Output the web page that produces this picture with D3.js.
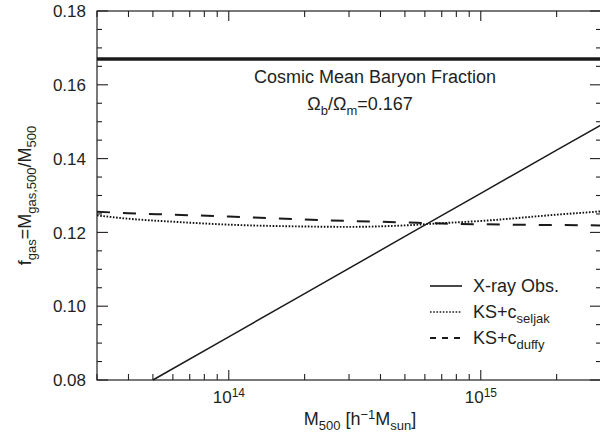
<!DOCTYPE html>
<html>
<head>
<meta charset="utf-8">
<script src="https://cdn.jsdelivr.net/npm/d3@7"></script>
<style>
  body { margin: 0; background: #fff; }
  text { font-family: "Liberation Sans", Arial, Helvetica, sans-serif; fill: #231f20; }
</style>
</head>
<body>
<div id="chart"></div>
<script>
// data
let baryonFraction = 0.167;

let massXray = [5e13, 1e14, 2e14, 5e14, 1e15, 2e15, 3e15];
let fXray = [0.0800, 0.0917, 0.1034, 0.1189, 0.1306, 0.1423, 0.1491];

let massModel = [3e13, 4e13, 6e13, 1e14, 2e14, 3e14, 5e14, 7e14, 1e15, 2e15, 3e15];
let fSeljak = [0.1246, 0.1237, 0.1229, 0.1221, 0.1216, 0.1215, 0.1219, 0.1225, 0.1231, 0.1248, 0.1257];
let fDuffy = [0.1256, 0.1252, 0.1248, 0.1243, 0.1235, 0.1231, 0.1227, 0.1224, 0.1222, 0.1220, 0.1219];

let yTicks = [0.08, 0.10, 0.12, 0.14, 0.16, 0.18];
let xMajor = [1e14, 1e15];
let xExp = [14, 15];

let svgWidth = 600;
let svgHeight = 436;
let margin = { top: 11, right: -1, bottom: 56, left: 97 };
let width = svgWidth - margin.left - margin.right;
let height = svgHeight - margin.top - margin.bottom;

let svg = d3.select("#chart")
  .append("svg")
  .attr("width", svgWidth)
  .attr("height", svgHeight)
  .append("g")
  .attr("transform", "translate(" + margin.left + "," + margin.top + ")");

let x = d3.scaleLog().domain([3e13, 3e15]).range([0, width]);
let y = d3.scaleLinear().domain([0.08, 0.18]).range([height, 0]);

// minor ticks
let xMinor = [];
[1e13, 1e14, 1e15].forEach(function(d) {
  for (let k = 1; k < 10; k++) {
    let v = d * k;
    if (v >= 3e13 && v <= 3e15 && xMajor.indexOf(v) < 0) xMinor.push(v);
  }
});
let yMinor = d3.range(0.08, 0.1801, 0.005).filter(function(v) {
  return Math.abs(Math.round(v * 50) - v * 50) > 1e-6;
});

let axisColor = "#231f20";
let ticks = svg.append("g").attr("stroke", axisColor).attr("stroke-width", 1.1);

function hTick(v, len) {
  ticks.append("line").attr("x1", 0).attr("x2", len).attr("y1", y(v)).attr("y2", y(v));
  ticks.append("line").attr("x1", width).attr("x2", width - len).attr("y1", y(v)).attr("y2", y(v));
}
function vTick(v, len) {
  ticks.append("line").attr("x1", x(v)).attr("x2", x(v)).attr("y1", height).attr("y2", height - len);
  ticks.append("line").attr("x1", x(v)).attr("x2", x(v)).attr("y1", 0).attr("y2", len);
}
yTicks.forEach(function(v) { hTick(v, 11); });
yMinor.forEach(function(v) { hTick(v, 5); });
xMajor.forEach(function(v) { vTick(v, 10); });
xMinor.forEach(function(v) { vTick(v, 6); });

// frame
svg.append("rect")
  .attr("width", width).attr("height", height)
  .attr("fill", "none").attr("stroke", axisColor).attr("stroke-width", 1.2);

// y tick labels
svg.append("g").selectAll("text")
  .data(yTicks)
  .enter().append("text")
  .attr("x", -11)
  .attr("y", function(d) { return y(d); })
  .attr("dy", "0.36em")
  .attr("text-anchor", "end")
  .attr("font-size", 17)
  .text(function(d) { return d.toFixed(2); });

// x tick labels 10^n
xMajor.forEach(function(v, i) {
  let t = svg.append("text")
    .attr("x", x(v) - 16)
    .attr("y", height + 23)
    .attr("font-size", 17);
  t.append("tspan").text("10");
  t.append("tspan").attr("font-size", 12).attr("dy", -6).text(xExp[i]);
});

// cosmic mean baryon fraction
svg.append("line")
  .attr("x1", 0).attr("x2", width)
  .attr("y1", y(baryonFraction)).attr("y2", y(baryonFraction))
  .attr("stroke", "#1a1a1a").attr("stroke-width", 3.6);

svg.append("text")
  .attr("x", 278).attr("y", 72)
  .attr("text-anchor", "middle")
  .attr("font-size", 18)
  .text("Cosmic Mean Baryon Fraction");

let om = svg.append("text")
  .attr("x", 263).attr("y", 99)
  .attr("text-anchor", "middle")
  .attr("font-size", 18);
om.append("tspan").text("Ω");
om.append("tspan").attr("font-size", 13).attr("dy", 5).text("b");
om.append("tspan").attr("dy", -5).text("/Ω");
om.append("tspan").attr("font-size", 13).attr("dy", 5).text("m");
om.append("tspan").attr("dy", -5).text("=0.167");

// curves
let line = d3.line()
  .x(function(d) { return x(d[0]); })
  .y(function(d) { return y(d[1]); })
  .curve(d3.curveMonotoneX);

let plot = svg.append("g");
plot.append("path")
  .attr("d", line(d3.zip(massModel, fDuffy)))
  .attr("fill", "none").attr("stroke", "#1a1a1a")
  .attr("stroke-width", 2).attr("stroke-dasharray", "13,13");

plot.append("path")
  .attr("d", line(d3.zip(massModel, fSeljak)))
  .attr("fill", "none").attr("stroke", "#111")
  .attr("stroke-width", 1.9).attr("stroke-dasharray", "1.6,1.6");

plot.append("path")
  .attr("d", d3.line()
    .x(function(d) { return x(d[0]); })
    .y(function(d) { return y(d[1]); })(d3.zip(massXray, fXray)))
  .attr("fill", "none").attr("stroke", "#1a1a1a")
  .attr("stroke-width", 1.5);

// legend
let legend = [
  { name: "X-ray Obs.", sub: "", dash: null, w: 1.6 },
  { name: "KS+c", sub: "seljak", dash: "1.6,1.6", w: 1.6 },
  { name: "KS+c", sub: "duffy", dash: "6,6", w: 1.8 }
];
let lg = svg.append("g").attr("transform", "translate(333,275)");
legend.forEach(function(d, i) {
  let yy = i * 26;
  lg.append("line")
    .attr("x1", 0).attr("x2", 32).attr("y1", yy).attr("y2", yy)
    .attr("stroke", "#1a1a1a").attr("stroke-width", d.w)
    .attr("stroke-dasharray", d.dash);
  let t = lg.append("text")
    .attr("x", 43).attr("y", yy).attr("dy", "0.36em")
    .attr("font-size", 18);
  t.append("tspan").text(d.name);
  if (d.sub) t.append("tspan").attr("font-size", 13).attr("dy", 5).text(d.sub);
});

// y axis title
let yt = svg.append("text")
  .attr("transform", "translate(-66," + (height / 2) + ") rotate(-90)")
  .attr("text-anchor", "middle")
  .attr("font-size", 18);
yt.append("tspan").text("f");
yt.append("tspan").attr("font-size", 13).attr("dy", 5).text("gas");
yt.append("tspan").attr("dy", -5).text("=M");
yt.append("tspan").attr("font-size", 13).attr("dy", 5).text("gas,500");
yt.append("tspan").attr("dy", -5).text("/M");
yt.append("tspan").attr("font-size", 13).attr("dy", 5).text("500");

// x axis title
let xt = svg.append("text")
  .attr("x", 263).attr("y", height + 45)
  .attr("text-anchor", "middle")
  .attr("font-size", 18);
xt.append("tspan").text("M");
xt.append("tspan").attr("font-size", 13).attr("dy", 5).text("500");
xt.append("tspan").attr("dy", -5).text(" [h");
xt.append("tspan").attr("font-size", 13).attr("dy", -6).text("−1");
xt.append("tspan").attr("dy", 6).text("M");
xt.append("tspan").attr("font-size", 13).attr("dy", 5).text("sun");
xt.append("tspan").attr("dy", -5).text("]");
</script>
</body>
</html>
